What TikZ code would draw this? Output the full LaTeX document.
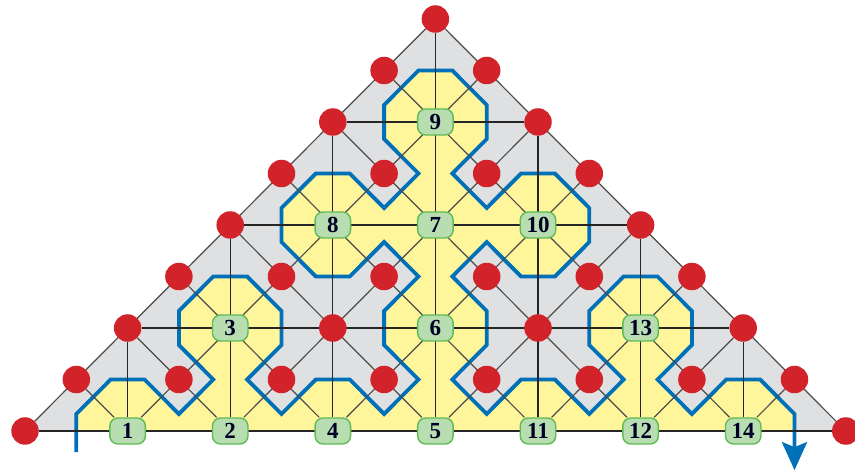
\documentclass[tikz,border=0pt]{standalone}
\usepackage{xcolor}
\usepackage{fontspec}
\setmainfont{Liberation Serif}
\usepackage{tikz}
\usetikzlibrary{arrows.meta, backgrounds}
\definecolor{pathblue}{HTML}{0070B8}
\definecolor{pointred}{HTML}{D2232A}
\definecolor{boxgreen}{HTML}{B7DDB0}
\definecolor{boxedge}{HTML}{5FBB55}
\definecolor{insideyellow}{HTML}{FFF59B}
\definecolor{outsidegray}{HTML}{DFE0E2}
\tikzset{
  redpoint/.style={circle, fill=pointred, inner sep=0pt, minimum size=27.5pt},
  greenbox/.style={fill=boxgreen, draw=boxedge, line width=1.4pt, rounded corners=8pt,
    inner sep=0pt, minimum width=35.5pt, minimum height=26pt,
    font=\fontsize{23}{23}\selectfont\bfseries, text=black!85!blue},
  gridline/.style={draw=black!85, line width=1.2pt},
  slantline/.style={draw=black!70, line width=1.2pt},
  turnline/.style={draw=pathblue, line width=3.8pt, miter limit=4},
}
% the turning path, without its two free ends
\def\turnpoints{(1,.33) -- (1.67,1) -- (2.33,1) -- (3,.33) -- (3.67,1) -- (3,1.67) -- (3,2.33)
  -- (3.67,3) -- (4.33,3) -- (5,2.33) -- (5,1.67) -- (4.33,1) -- (5,.33) -- (5.67,1) -- (6.33,1)
  -- (7,.33) -- (7.67,1) -- (7,1.67) -- (7,2.33) -- (7.67,3) -- (7,3.67) -- (6.33,3) -- (5.67,3)
  -- (5,3.67) -- (5,4.33) -- (5.67,5) -- (6.33,5) -- (7,4.33) -- (7.67,5) -- (7,5.67) -- (7,6.33)
  -- (7.67,7) -- (8.33,7) -- (9,6.33) -- (9,5.67) -- (8.33,5) -- (9,4.33) -- (9.67,5) -- (10.33,5)
  -- (11,4.33) -- (11,3.67) -- (10.33,3) -- (9.67,3) -- (9,3.67) -- (8.33,3) -- (9,2.33) -- (9,1.67)
  -- (8.33,1) -- (9,.33) -- (9.67,1) -- (10.33,1) -- (11,.33) -- (11.67,1) -- (11,1.67) -- (11,2.33)
  -- (11.67,3) -- (12.33,3) -- (13,2.33) -- (13,1.67) -- (12.33,1) -- (13,.33) -- (13.67,1)
  -- (14.33,1) -- (15,.33)}
\begin{document}
\begin{tikzpicture}[x=51.3pt, y=51.5pt]
  \useasboundingbox (-25pt,-40pt) rectangle (830pt,431pt);
  % red points
  \foreach \x/\y in {0/0,16/0,1/1,3/1,5/1,7/1,9/1,11/1,13/1,15/1,2/2,6/2,10/2,14/2,
      3/3,5/3,7/3,9/3,11/3,13/3,4/4,12/4,5/5,7/5,9/5,11/5,6/6,10/6,7/7,9/7,8/8}
    \node[redpoint] (p\x-\y) at (\x,\y) {};
  % numbered boxes
  \foreach \n/\x/\y in {1/2/0,2/4/0,3/4/2,4/6/0,5/8/0,6/8/2,7/8/4,8/6/4,9/8/6,10/10/4,
      11/10/0,12/12/0,13/12/2,14/14/0}
    \node[greenbox] (p\x-\y) at (\x,\y) {\n};
  \coordinate (turnstart) at (1,-.41);
  \coordinate (turnend) at (15,-.76);
  \begin{pgfonlayer}{background}
    \fill[outsidegray] (p0-0.center) -- (p8-8.center) -- (p16-0.center) -- cycle;
    \fill[insideyellow] (1,0) -- \turnpoints -- (15,0) -- cycle;
    \draw[turnline, -{Stealth[length=28pt, width=25pt, inset=5pt]}] (turnstart) -- \turnpoints -- (turnend);
    % rows and columns
    \foreach \a/\b in {0-0/16-0,2-2/14-2,4-4/12-4,6-6/10-6,
        2-0/2-2,4-0/4-4,6-0/6-6,8-0/8-8,10-0/10-6,12-0/12-4,14-0/14-2}
      \draw[gridline] (p\a) -- (p\b);
    % diagonals
    \foreach \a/\b in {0-0/8-8,2-0/9-7,4-0/10-6,6-0/11-5,8-0/12-4,10-0/13-3,12-0/14-2,14-0/15-1,
        16-0/8-8,14-0/7-7,12-0/6-6,10-0/5-5,8-0/4-4,6-0/3-3,4-0/2-2,2-0/1-1}
      \draw[slantline] (p\a) -- (p\b);
  \end{pgfonlayer}
\end{tikzpicture}
\end{document}
